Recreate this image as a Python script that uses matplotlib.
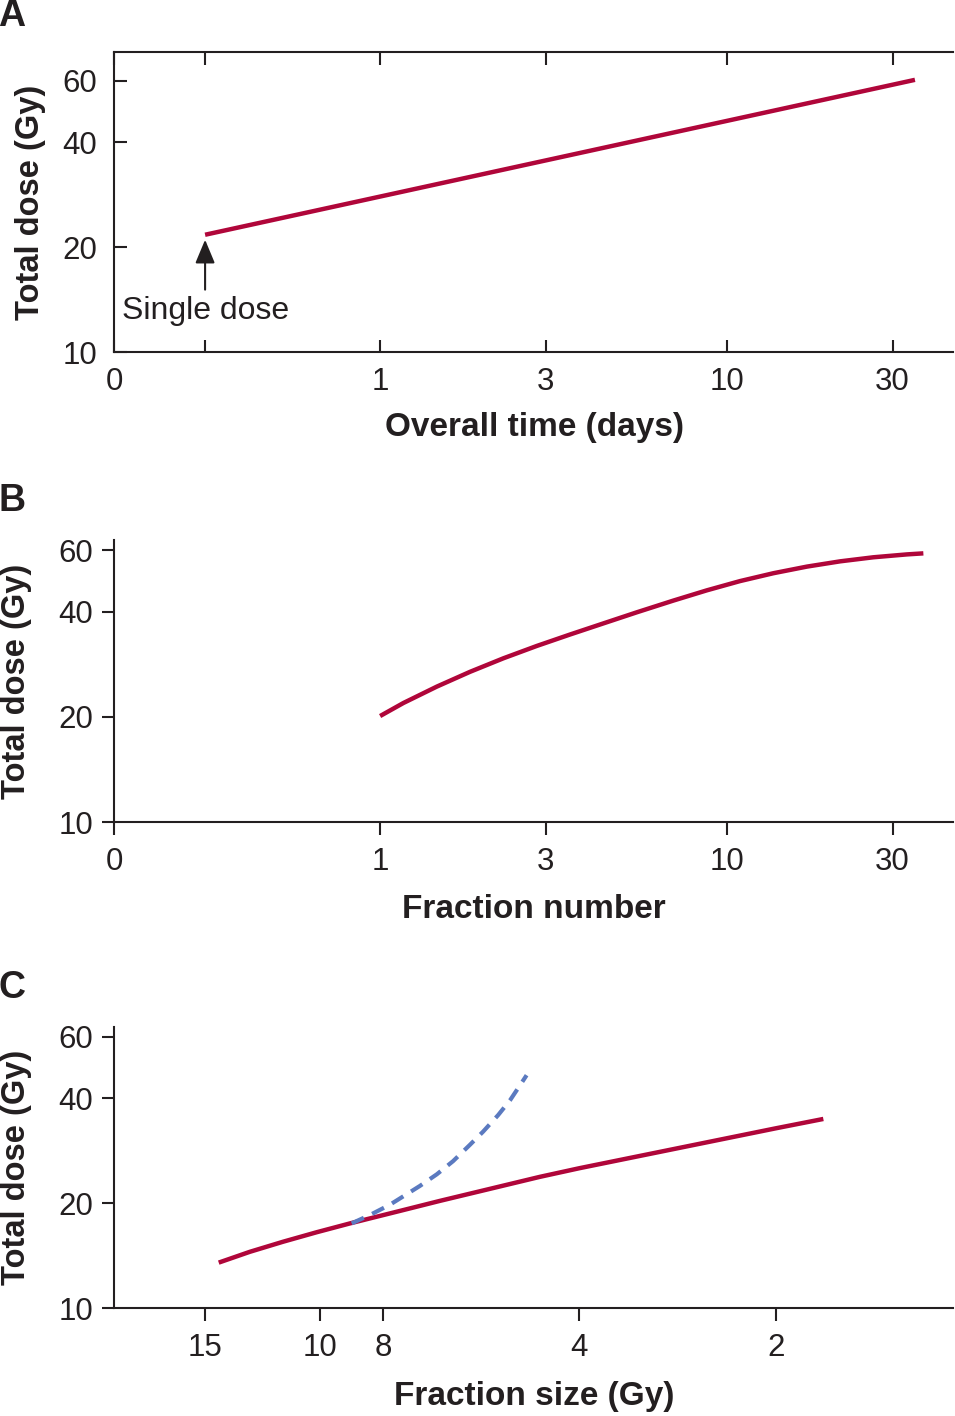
import matplotlib
matplotlib.use("Agg")
import matplotlib.pyplot as plt
from matplotlib.ticker import FixedLocator, FixedFormatter, NullLocator

plt.rcParams['font.family'] = ['Liberation Sans', 'DejaVu Sans']

# panel A: overall time (days) vs total dose
time_a = [0.313, 34.8]
dose_a = [21.7, 60.4]

# panel B: fraction number vs total dose
frac_b = [1.0, 1.167, 1.457, 1.817, 2.266, 2.83, 3.53, 4.40, 5.49, 7.00,
          8.74, 10.9, 13.6, 17.0, 21.2, 26.4, 33.0, 36.8]
dose_b = [20.1, 21.9, 24.4, 26.9, 29.4, 31.9, 34.4, 37.0, 39.8, 43.0,
          46.0, 48.9, 51.5, 53.8, 55.7, 57.2, 58.3, 58.7]

# panel C: fraction size (Gy) vs total dose
size_c = [14.3, 12.81, 11.39, 10.12, 8.99, 7.54, 6.55, 4.6, 4.0, 2.0, 1.69]
dose_c = [13.5, 14.5, 15.5, 16.5, 17.5, 19.0, 20.3, 23.8, 25.2, 32.8, 34.9]
size_d = [8.94, 8.38, 7.81, 7.03, 6.62, 6.25, 5.89, 5.62, 5.33, 5.11, 4.91, 4.82]
dose_d = [17.5, 18.5, 19.8, 22.4, 24.2, 26.4, 29.4, 32.1, 35.8, 39.5, 44.2, 46.6]

y_ticks = [10, 20, 40, 60]
time_ticks = [0.171, 1, 3, 10, 30]
time_labels = ['0', '1', '3', '10', '30']
size_ticks = [15, 10, 8, 4, 2]

RED = '#B0063A'
BLUE = '#5B7AC0'
INK = '#231F20'
W, H = 955, 1416

fig = plt.figure(figsize=(W / 100, H / 100), dpi=100)


def box(top, bottom):
    return [114 / W, 1 - bottom / H, 839 / W, (bottom - top) / H]


def style(ax, ylim, direction):
    ax.set_yscale('log')
    ax.set_xscale('log')
    ax.set_ylim(*ylim)
    ax.yaxis.set_major_locator(FixedLocator(y_ticks))
    ax.yaxis.set_major_formatter(FixedFormatter([str(v) for v in y_ticks]))
    ax.yaxis.set_minor_locator(NullLocator())
    ax.xaxis.set_minor_locator(NullLocator())
    ax.spines['right'].set_visible(False)
    for s in ax.spines.values():
        s.set_linewidth(1.5)
        s.set_color(INK)
    ax.tick_params(axis='both', which='major', direction=direction, length=9,
                   width=1.5, color=INK, labelsize=22.5, labelcolor=INK)


# ---- A
axA = fig.add_axes(box(52, 352))
style(axA, (10, 72.6), 'in')
axA.set_xlim(0.171, 44.8)
axA.plot(time_a, dose_a, color=RED, lw=3.2, solid_capstyle='butt')
axA.xaxis.set_major_locator(FixedLocator(time_ticks + [0.313]))
axA.xaxis.set_major_formatter(FixedFormatter(time_labels + ['']))
axA.tick_params(axis='x', top=True, pad=11)
axA.tick_params(axis='y', pad=12)
axA.annotate('', xy=(0.313, 21.0), xytext=(0.313, 15.1),
             arrowprops=dict(arrowstyle='-|>,head_length=0.72,head_width=0.3',
                             mutation_scale=20, color=INK, lw=1.5,
                             shrinkA=0, shrinkB=0))
axA.text(0.1805, 13.1, 'Single dose', fontsize=23, color=INK, va='center', ha='left')

# ---- B
axB = fig.add_axes(box(540, 822))
style(axB, (10, 64.1), 'out')
axB.spines['top'].set_visible(False)
axB.set_xlim(0.171, 44.8)
axB.plot(frac_b, dose_b, color=RED, lw=3.2, solid_capstyle='butt')
axB.xaxis.set_major_locator(FixedLocator(time_ticks))
axB.xaxis.set_major_formatter(FixedFormatter(time_labels))
axB.tick_params(axis='x', pad=9)
axB.tick_params(axis='y', pad=6)

# ---- C
axC = fig.add_axes(box(1027, 1308))
style(axC, (10, 64.1), 'out')
axC.spines['top'].set_visible(False)
axC.set_xlim(20.7, 1.069)
axC.plot(size_c, dose_c, color=RED, lw=3.2, solid_capstyle='butt')
axC.plot(size_d, dose_d, color=BLUE, lw=3.0, dashes=(3.2, 2.2))
axC.xaxis.set_major_locator(FixedLocator(size_ticks))
axC.xaxis.set_major_formatter(FixedFormatter([str(v) for v in size_ticks]))
axC.tick_params(axis='x', pad=9)
axC.tick_params(axis='y', pad=6)

# labels
ylab = dict(fontsize=23.5, fontweight='bold', color=INK, ha='center', va='center')
xlab = dict(fontsize=24, fontweight='bold', color=INK, ha='center', va='center')
fig.text(30 / W, 1 - 202 / H, 'Total dose (Gy)', rotation=90, **ylab)
fig.text(17 / W, 1 - 681 / H, 'Total dose (Gy)', rotation=90, **ylab)
fig.text(17 / W, 1 - 1167 / H, 'Total dose (Gy)', rotation=90, **ylab)
fig.text(534 / W, 1 - 428 / H, 'Overall time (days)', **xlab)
fig.text(534 / W, 1 - 909 / H, 'Fraction number', **xlab)
fig.text(534 / W, 1 - 1397 / H, 'Fraction size (Gy)', **xlab)

pan = dict(fontsize=27, fontweight='bold', color=INK, ha='left', va='center')
fig.text(-0.002, 1 - 16 / H, 'A', **pan)
fig.text(-0.002, 1 - 501 / H, 'B', **pan)
fig.text(-0.002, 1 - 988 / H, 'C', **pan)

fig.savefig('out.png', dpi=100)
